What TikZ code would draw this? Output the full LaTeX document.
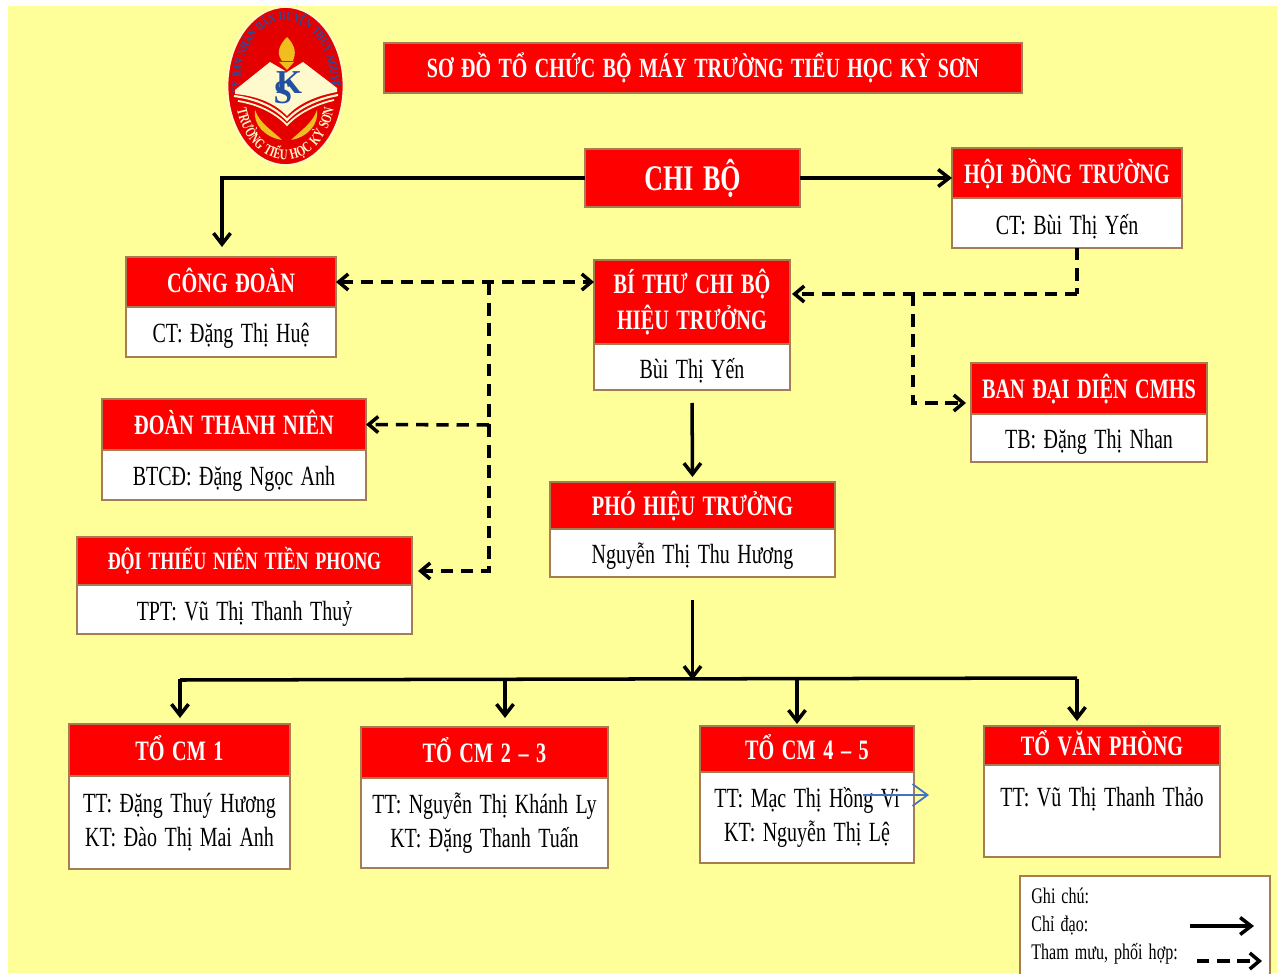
\documentclass[tikz,border=0pt]{standalone}
\usepackage{fontspec}
\setmainfont[FakeStretch=0.72,WordSpace=1.5]{Liberation Serif}
\newfontfamily\logofont{Liberation Serif}
\usetikzlibrary{arrows.meta,decorations.text}
\definecolor{nen}{RGB}{255,255,153}
\definecolor{vien}{RGB}{166,124,82}
\definecolor{dodo}{RGB}{255,0,0}
\definecolor{xanh}{RGB}{68,114,196}
\definecolor{vang}{RGB}{240,190,30}
\definecolor{kem}{RGB}{255,250,205}
\definecolor{xanhdam}{RGB}{35,80,160}
\tikzset{%
  heading/.style={draw=vien, line width=1.1pt, fill=dodo, text=white, inner sep=0, outer sep=0,
    text depth=2.5pt, font=\fontsize{16}{20}\selectfont\bfseries},% red head of a box
  member/.style={draw=vien, line width=1.1pt, fill=white, text=black, inner sep=0, outer sep=0,
    align=center, font=\fontsize{15.8}{19.5}\selectfont},% white part with the names
  chidao/.style={line width=2pt, -{Straight Barb[length=2.2mm,width=3.4mm]}},% solid line
  thammuu/.style={line width=2pt, dash pattern=on 7pt off 4.5pt,
    -{Straight Barb[length=1.9mm,width=3.2mm]}},% dashed line
  canhbao/.style={line width=2pt, dash pattern=on 7pt off 4.5pt}
}
\newcommand*{\xuong}{\rule{0pt}{15.5pt}}
\newcommand*{\orgbox}[9][]{
  \node[heading, #1, minimum width={(#4-#3)*0.02cm}, minimum height={(#6-#5)*0.02cm}, align=center]
    (#2) at ({(#3+#4)/2},{(#5+#6)/2}) {#8};
  \node[member, minimum width={(#4-#3)*0.02cm}, minimum height={(#7-#6)*0.02cm}]
    (#2-ten) at ({(#3+#4)/2},{(#6+#7)/2}) {#9};
}

\begin{document}
\begin{tikzpicture}[x=0.02cm, y=-0.02cm]
\useasboundingbox (0,0) rectangle (1277,973);
\fill[nen] (8,6) rectangle (1277,973);

% logo
\filldraw[draw=kem, line width=1pt, fill=dodo!90!black] (285.5,86) ellipse (58 and 79);
\path[postaction={decorate, decoration={text along path, text align=center,
    text={|\fontsize{7}{8}\selectfont\bfseries\color{xanhdam}|ỦY BAN NHÂN DÂN HUYỆN THỦY NGUYÊN}}}]
  (240,88) .. controls (240,-2) and (331,-2) .. (331,88);
\path[postaction={decorate, decoration={text along path, text align=center,
    text={|\fontsize{8.4}{9}\selectfont\bfseries\color{kem}|TRƯỜNG TIỂU HỌC KỲ SƠN}}}]
  (236,104) .. controls (248,178) and (323,178) .. (335,104);
\fill[kem] (235,90) -- (270,62) -- (287,72) -- (303,62) -- (337,88) -- (337,92)
  .. controls (315,96) and (298,104) .. (287,116) .. controls (276,104) and (258,96) .. (235,94) -- cycle;
\draw[kem, line width=1.2pt] (234,96) .. controls (258,99) and (276,108) .. (287,120)
  .. controls (298,108) and (316,99) .. (338,95);
\draw[kem, line width=1pt] (238,101) .. controls (258,104) and (276,113) .. (287,125)
  .. controls (298,113) and (316,104) .. (334,100);
\fill[vang] (287,37) .. controls (276,48) and (278,56) .. (282,61) -- (293,61)
  .. controls (296,54) and (296,46) .. (287,37) -- cycle;
\fill[vang] (279,62) -- (294,62) -- (287,70) -- cycle;
\fill[vang] (255,110) .. controls (253,124) and (264,137) .. (282,140)
  .. controls (272,130) and (260,124) .. (255,110) -- cycle;
\fill[vang] (317,110) .. controls (319,124) and (308,137) .. (291,140)
  .. controls (301,130) and (312,124) .. (317,110) -- cycle;
\node[text=xanhdam, inner sep=0, font=\fontsize{19}{19}\selectfont\bfseries\logofont] (logok) at (289,83) {K};
\node[text=xanhdam, inner sep=0, font=\fontsize{19}{19}\selectfont\bfseries\logofont] (logos) at (283,93) {S};

% boxes
\node[heading, text depth={}, minimum width=12.76cm, minimum height=1cm,
  font=\fontsize{15.8}{20}\selectfont\bfseries] (tieude) at (703,68) {SƠ ĐỒ TỔ CHỨC BỘ MÁY TRƯỜNG TIỂU HỌC KỲ SƠN};
\node[heading, text depth={}, minimum width=4.3cm, minimum height=1.16cm,
  font=\fontsize{20.5}{24}\selectfont\bfseries] (chibo) at (692.5,178) {CHI BỘ};

\orgbox{hoidong}{952}{1182}{148}{198}{248}{HỘI ĐỒNG TRƯỜNG}{\xuong CT: Bùi Thị Yến}
\orgbox{congdoan}{126}{336}{257}{307}{357}{CÔNG ĐOÀN}{\xuong CT: Đặng Thị Huệ}
\orgbox[text depth={}]{bithu}{594}{790}{260}{344}{390}{BÍ THƯ CHI BỘ\\HIỆU TRƯỞNG}{\xuong Bùi Thị Yến}
\orgbox{bandaidien}{971}{1207}{363}{414}{462}{BAN ĐẠI DIỆN CMHS}{\xuong TB: Đặng Thị Nhan}
\orgbox{doanthanhnien}{102}{366}{399}{450}{500}{ĐOÀN THANH NIÊN}{\xuong BTCĐ: Đặng Ngọc Anh}
\orgbox[font=\fontsize{14.2}{18}\selectfont\bfseries]{doithieunien}{77}{412}{537}{585}{634}{ĐỘI THIẾU NIÊN TIỀN PHONG}{\xuong TPT: Vũ Thị Thanh Thuỷ}
\orgbox{phohieutruong}{550}{835}{482}{529}{577}{PHÓ HIỆU TRƯỞNG}{\xuong Nguyễn Thị Thu Hương}
\orgbox{to1}{69}{290}{724}{776}{869}{TỔ CM 1}{TT: Đặng Thuý Hương\\KT: Đào Thị Mai Anh}
\orgbox{to23}{361}{608}{727}{778}{868}{TỔ CM 2 -- 3}{TT: Nguyễn Thị Khánh Ly\\KT: Đặng Thanh Tuấn}
\orgbox{to45}{700}{914}{726}{772}{863}{TỔ CM 4 -- 5}{TT: Mạc Thị Hồng Vi\\KT: Nguyễn Thị Lệ}
\orgbox{tovp}{984}{1220}{726}{765}{857}{TỔ VĂN PHÒNG}{TT: Vũ Thị Thanh Thảo\\[-3pt]\mbox{}}

% solid lines
\draw[chidao, shorten >=.2cm] (chibo.west) -| ([xshift=-.18cm]congdoan.north);
\draw[chidao] (chibo.east) -- (hoidong.west |- chibo.east);
\draw[chidao, shorten <=.26cm, shorten >=.1cm] (bithu-ten.south) -- (phohieutruong.north);

\coordinate (bus-l) at (180,680);
\coordinate (bus-r) at (1077,678);
\draw[line width=2pt] (bus-l) -- (bus-r);
\draw[chidao, shorten <=.46cm] (phohieutruong-ten.south) -- (phohieutruong-ten.south |- bus-l);
\foreach \name/\xpos/\gap in {to1/180/.12, to23/505/.18, to45/797/.04, tovp/1077/.1}{
  \draw[chidao, shorten >=\gap cm] (\xpos,679) -- (\xpos,0 |- \name.north);
}

% dashed lines
\coordinate (nga-cd) at (489,283);
\coordinate (nga-dtn) at (489,425);
\coordinate (doi-tip) at (418,571);
\draw[thammuu, {Straight Barb[length=1.9mm,width=3.2mm]}-{Straight Barb[length=1.9mm,width=3.2mm]}]
  (congdoan.east) -- (bithu.west |- congdoan.east);
\draw[canhbao] (nga-cd) -- (nga-dtn);
\draw[thammuu] (nga-dtn) -- (doanthanhnien.east);
\draw[thammuu] (nga-dtn) |- (doi-tip);

\coordinate (nga-hd) at (1077,294);
\coordinate (nga-bd) at (913,294);
\coordinate (ban-tip) at (966,403);
\draw[canhbao] (hoidong-ten.south -| nga-hd) -- (nga-hd);
\draw[thammuu, shorten >=.04cm] (nga-hd) -- (bithu.east |- nga-hd);
\draw[thammuu] (nga-bd) |- (ban-tip);

% stray arrow on the box
\coordinate (le-a) at (863,795);
\coordinate (le-b) at (929,795);
\draw[xanh, line width=1pt, -{Straight Barb[length=3mm,width=4.4mm]}] (le-a) -- (le-b);

% legend
\node[draw=vien, line width=1.1pt, fill=white, inner sep=0, minimum width=5cm, minimum height=2cm] (ghichu) at (1145,926) {};
\node[anchor=north west, inner sep=0, align=left, font=\fontsize{12.7}{15.8}\selectfont] (ghichu-chu) at (1031,888)
  {Ghi chú:\\Chỉ đạo:\\Tham mưu, phối hợp:};
\coordinate (mau1-a) at (1190,926);
\coordinate (mau1-b) at (1254,926);
\coordinate (mau2-a) at (1197,961);
\coordinate (mau2-b) at (1262,961);
\draw[chidao] (mau1-a) -- (mau1-b);
\draw[thammuu] (mau2-a) -- (mau2-b);
\end{tikzpicture}
\end{document}
